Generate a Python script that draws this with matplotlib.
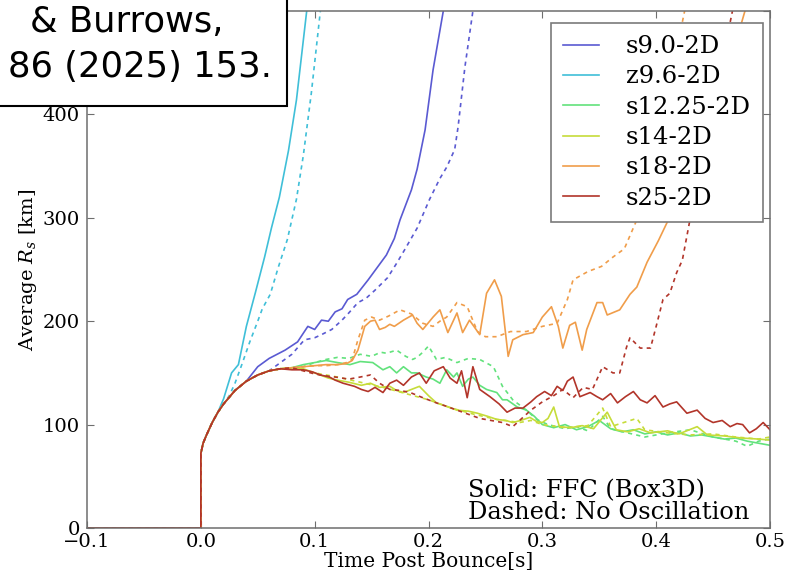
import matplotlib
matplotlib.use("Agg")
import matplotlib.pyplot as plt
from matplotlib.patches import Rectangle

# early shock expansion, common to every model (t in s, R in km)
t_early = [-0.1, 0.0, 0.0, 0.002, 0.005, 0.01, 0.015, 0.02, 0.03, 0.04, 0.05, 0.06, 0.07, 0.08]
r_early = [0, 0, 72, 82, 90, 102, 112, 120, 133, 142, 148, 152, 154, 155]

models = ["s9.0-2D", "z9.6-2D", "s12.25-2D", "s14-2D", "s18-2D", "s25-2D"]
colors = ["#5a5ad2", "#3fbfd8", "#62e27c", "#c6dc3a", "#f09d4a", "#b2352a"]

# how many points of the early part each curve shares (solid, dashed)
n_shared = {"s9.0-2D": (10, 12), "z9.6-2D": (7, 8), "s12.25-2D": (14, 14),
            "s14-2D": (14, 14), "s18-2D": (14, 14), "s25-2D": (13, 14)}

# --- solid: FFC (Box3D) ---
s90_t = [0.05, 0.06, 0.074, 0.085, 0.094, 0.1, 0.106, 0.112, 0.118, 0.124, 0.129, 0.137, 0.147,
         0.155, 0.163, 0.17, 0.175, 0.185, 0.19, 0.197, 0.204, 0.213]
s90_r = [156, 164, 172, 180, 195, 192, 201, 200, 209, 212, 221, 226, 240,
         252, 264, 280, 298, 327, 347, 385, 443, 500]
z96_t = [0.02, 0.027, 0.033, 0.04, 0.048, 0.056, 0.062, 0.069, 0.077, 0.084, 0.093]
z96_r = [125, 150, 158, 195, 228, 262, 290, 320, 365, 414, 500]
s1225_t = [0.09, 0.1, 0.11, 0.12, 0.131, 0.14, 0.151, 0.16, 0.166, 0.172, 0.178, 0.185, 0.19, 0.198,
           0.204, 0.21, 0.216, 0.222, 0.225, 0.23, 0.235, 0.239, 0.245, 0.251, 0.26, 0.265, 0.269,
           0.278, 0.286, 0.293, 0.3, 0.31, 0.32, 0.33, 0.34, 0.35, 0.36, 0.37, 0.38, 0.39, 0.4,
           0.41, 0.42, 0.43, 0.44, 0.45, 0.46, 0.47, 0.48, 0.49, 0.5]
s1225_r = [158, 160, 162, 160, 158, 161, 160, 153, 156, 150, 156, 150, 150, 146,
           144, 140, 153, 146, 150, 137, 144, 146, 138, 134, 131, 124, 124,
           117, 114, 108, 100, 97, 100, 95, 98, 104, 96, 93, 95, 91, 93,
           90, 92, 89, 90, 88, 86, 87, 84, 82, 80]
s14_t = [0.09, 0.1, 0.112, 0.12, 0.13, 0.141, 0.149, 0.157, 0.166, 0.172, 0.178, 0.185, 0.192, 0.2,
         0.207, 0.215, 0.225, 0.235, 0.243, 0.252, 0.26, 0.268, 0.274, 0.281, 0.289, 0.295, 0.3,
         0.305, 0.31, 0.315, 0.325, 0.335, 0.345, 0.357, 0.365, 0.375, 0.385, 0.395, 0.41, 0.42,
         0.436, 0.445, 0.46, 0.475, 0.49, 0.5]
s14_r = [154, 150, 145, 143, 141, 138, 140, 136, 137, 133, 131, 134, 137, 128,
         121, 118, 114, 113, 111, 108, 105, 104, 102, 104, 107, 103, 102,
         106, 117, 98, 97, 99, 96, 112, 95, 93, 96, 92, 94, 91,
         98, 90, 89, 87, 86, 85]
s18_t = [0.09, 0.1, 0.11, 0.12, 0.128, 0.133, 0.138, 0.144, 0.149, 0.153, 0.157, 0.162, 0.166, 0.17,
         0.178, 0.186, 0.19, 0.195, 0.204, 0.21, 0.217, 0.225, 0.23, 0.236, 0.245, 0.251, 0.258,
         0.264, 0.267, 0.27, 0.274, 0.283, 0.292, 0.3, 0.308, 0.314, 0.318, 0.324, 0.329, 0.335,
         0.339, 0.348, 0.353, 0.357, 0.368, 0.377, 0.383, 0.392, 0.402, 0.412, 0.425, 0.44,
         0.455, 0.468, 0.478]
s18_r = [156, 157, 158, 158, 159, 162, 172, 195, 200, 201, 192, 194, 197, 195,
         201, 206, 198, 192, 204, 211, 189, 208, 189, 201, 187, 227, 240,
         224, 195, 166, 182, 187, 189, 204, 214, 195, 174, 196, 199, 172,
         192, 218, 218, 206, 211, 226, 233, 257, 278, 301, 330, 375,
         420, 462, 500]
s25_t = [0.08, 0.09, 0.098, 0.105, 0.113, 0.118, 0.125, 0.135, 0.141, 0.147, 0.153, 0.16, 0.166,
         0.172, 0.178, 0.185, 0.192, 0.198, 0.205, 0.213, 0.219, 0.225, 0.229, 0.234, 0.239, 0.245,
         0.254, 0.262, 0.269, 0.276, 0.283, 0.29, 0.295, 0.302, 0.308, 0.313, 0.318, 0.322, 0.327,
         0.333, 0.342, 0.348, 0.353, 0.36, 0.366, 0.373, 0.38, 0.386, 0.392, 0.399, 0.406, 0.412,
         0.418, 0.427, 0.436, 0.443, 0.45, 0.458, 0.465, 0.471, 0.476, 0.482, 0.488, 0.494, 0.5]
s25_r = [153, 153, 151, 148, 146, 143, 140, 137, 134, 132, 136, 131, 140,
         143, 138, 146, 150, 140, 152, 156, 145, 140, 152, 126, 156, 134,
         127, 120, 112, 116, 116, 122, 127, 132, 128, 137, 133, 142, 146,
         127, 131, 127, 124, 130, 121, 127, 132, 124, 121, 128, 117, 120,
         122, 111, 114, 106, 102, 104, 98, 101, 100, 92, 96, 102, 95]

# --- dashed: no oscillation ---
s90d_t = [0.07, 0.08, 0.091, 0.1, 0.106, 0.115, 0.124, 0.13, 0.138, 0.145, 0.153, 0.164, 0.172,
          0.179, 0.19, 0.201, 0.21, 0.216, 0.223, 0.226, 0.232, 0.239]
s90d_r = [160, 168, 182, 184, 187, 192, 201, 208, 218, 222, 230, 242, 256,
          269, 290, 318, 338, 349, 366, 388, 446, 500]
z96d_t = [0.025, 0.03, 0.036, 0.043, 0.05, 0.054, 0.061, 0.068, 0.076, 0.084, 0.09, 0.097, 0.105]
z96d_r = [128, 140, 158, 180, 200, 212, 226, 252, 279, 318, 360, 420, 500]
s1225d_t = [0.09, 0.1, 0.11, 0.12, 0.13, 0.14, 0.15, 0.158, 0.163, 0.172, 0.18, 0.186, 0.19, 0.195,
            0.2, 0.207, 0.215, 0.225, 0.235, 0.245, 0.257, 0.265, 0.274, 0.286, 0.295, 0.305,
            0.32, 0.33, 0.34, 0.353, 0.36, 0.375, 0.39, 0.41, 0.43, 0.45, 0.47, 0.48, 0.49, 0.5]
s1225d_r = [156, 160, 163, 165, 164, 168, 166, 170, 169, 172, 166, 163, 165, 170,
            176, 163, 165, 160, 164, 163, 156, 137, 124, 114, 105, 100,
            96, 98, 94, 108, 96, 92, 88, 92, 95, 88, 84, 79, 84, 86]
s14d_t = [0.1, 0.12, 0.14, 0.16, 0.18, 0.2, 0.22, 0.24, 0.26, 0.28, 0.29, 0.3, 0.32, 0.34, 0.353,
          0.36, 0.383, 0.39, 0.41, 0.43, 0.45, 0.47, 0.49, 0.5]
s14d_r = [150, 146, 141, 136, 130, 124, 116, 110, 105, 102, 104, 100, 97, 99, 116,
          98, 106, 95, 92, 90, 91, 88, 86, 88]
s18d_t = [0.1, 0.11, 0.12, 0.128, 0.133, 0.138, 0.144, 0.15, 0.157, 0.165, 0.175, 0.185, 0.195,
          0.204, 0.21, 0.216, 0.225, 0.234, 0.243, 0.25, 0.26, 0.272, 0.286, 0.3, 0.313, 0.322,
          0.327, 0.34, 0.352, 0.362, 0.372, 0.383, 0.395, 0.41, 0.425]
s18d_r = [157, 157, 158, 160, 163, 182, 201, 204, 201, 205, 211, 207, 198,
          195, 200, 204, 218, 214, 190, 185, 185, 190, 190, 195, 198, 221,
          240, 248, 253, 262, 270, 298, 345, 420, 500]
s25d_t = [0.09, 0.1, 0.11, 0.118, 0.13, 0.14, 0.149, 0.157, 0.166, 0.175, 0.184, 0.195, 0.207,
          0.215, 0.225, 0.235, 0.245, 0.255, 0.265, 0.274, 0.28, 0.29, 0.3, 0.31, 0.318, 0.327,
          0.336, 0.344, 0.353, 0.362, 0.368, 0.374, 0.377, 0.386, 0.395, 0.4, 0.406, 0.412,
          0.418, 0.423, 0.43, 0.445, 0.467]
s25d_r = [152, 149, 147, 146, 144, 146, 148, 140, 134, 133, 131, 126, 121,
          118, 114, 110, 106, 104, 102, 98, 104, 114, 122, 128, 134, 126,
          136, 134, 156, 150, 150, 175, 184, 174, 174, 195, 221, 227,
          247, 259, 300, 380, 500]

solid = {"s9.0-2D": (s90_t, s90_r), "z9.6-2D": (z96_t, z96_r), "s12.25-2D": (s1225_t, s1225_r),
         "s14-2D": (s14_t, s14_r), "s18-2D": (s18_t, s18_r), "s25-2D": (s25_t, s25_r)}
dashed = {"s9.0-2D": (s90d_t, s90d_r), "z9.6-2D": (z96d_t, z96d_r), "s12.25-2D": (s1225d_t, s1225d_r),
          "s14-2D": (s14d_t, s14d_r), "s18-2D": (s18d_t, s18d_r), "s25-2D": (s25d_t, s25d_r)}

y_ticks = [0, 100, 200, 300, 400, 500]
y_ticklabels = ["0", "100", "200", "300", "400", ""]  # 500 sits under the citation box

plt.rcParams.update({
    "font.family": "serif",
    "font.serif": ["DejaVu Serif"],
    "mathtext.fontset": "dejavuserif",
    "xtick.direction": "in",
    "ytick.direction": "in",
    "xtick.top": True,
    "ytick.right": True,
    "xtick.major.size": 5,
    "ytick.major.size": 5,
    "xtick.major.pad": 3.5,
    "ytick.major.pad": 5,
    "axes.edgecolor": "#6e6e6e",
    "axes.linewidth": 1.1,
})

fig = plt.figure(figsize=(7.95, 5.73), dpi=100)
ax = fig.add_axes([87 / 795, 1 - 528 / 573, 683 / 795, 517 / 573])

for name, c in zip(models, colors):
    ns, nd = n_shared[name]
    t, r = solid[name]
    ax.plot(t_early[:ns] + t, r_early[:ns] + r, color=c, lw=1.2, label=name)
    t, r = dashed[name]
    ax.plot(t_early[:nd] + t, r_early[:nd] + r, color=c, lw=1.2, ls=(0, (2.5, 2.5)))

ax.set_xlim(-0.1, 0.5)
ax.set_ylim(0, 500)
ax.set_xticks([-0.1, 0.0, 0.1, 0.2, 0.3, 0.4, 0.5])
ax.set_yticks(y_ticks, labels=y_ticklabels)
ax.tick_params(labelsize=14, color="#6e6e6e")
ax.set_xlabel("Time Post Bounce[s]", fontsize=14.5, labelpad=0.5)
ax.set_ylabel("Average $R_s$ [km]", fontsize=14, labelpad=3)

leg = ax.legend(loc="upper right", bbox_to_anchor=(0.9898, 0.9768), borderaxespad=0,
                fontsize=17.5, handlelength=1.5, handletextpad=1.1, labelspacing=0.3,
                borderpad=0.5, fancybox=False, framealpha=1, edgecolor="#7a7a7a")
leg.get_frame().set_linewidth(1.2)

ax.text(0.558, 0.008, "Solid: FFC (Box3D)\nDashed: No Oscillation", transform=ax.transAxes,
        ha="left", va="bottom", fontsize=17.4, linespacing=0.95)

# citation box pasted over the upper left corner
fig.add_artist(Rectangle((-10 / 795, 1 - 106 / 573), 297 / 795, 116 / 573,
                         transform=fig.transFigure, facecolor="white", edgecolor="black",
                         lw=1.5, zorder=10))
fig.text(224 / 795, 1 - 32 / 573, "& Burrows,", ha="right", va="baseline", fontsize=25.5,
         family=["DejaVu Sans"], zorder=11)
fig.text(272 / 795, 1 - 77 / 573, "86 (2025) 153.", ha="right", va="baseline", fontsize=25.5,
         family=["DejaVu Sans"], zorder=11)

fig.savefig("out.png", dpi=100, facecolor="white")
